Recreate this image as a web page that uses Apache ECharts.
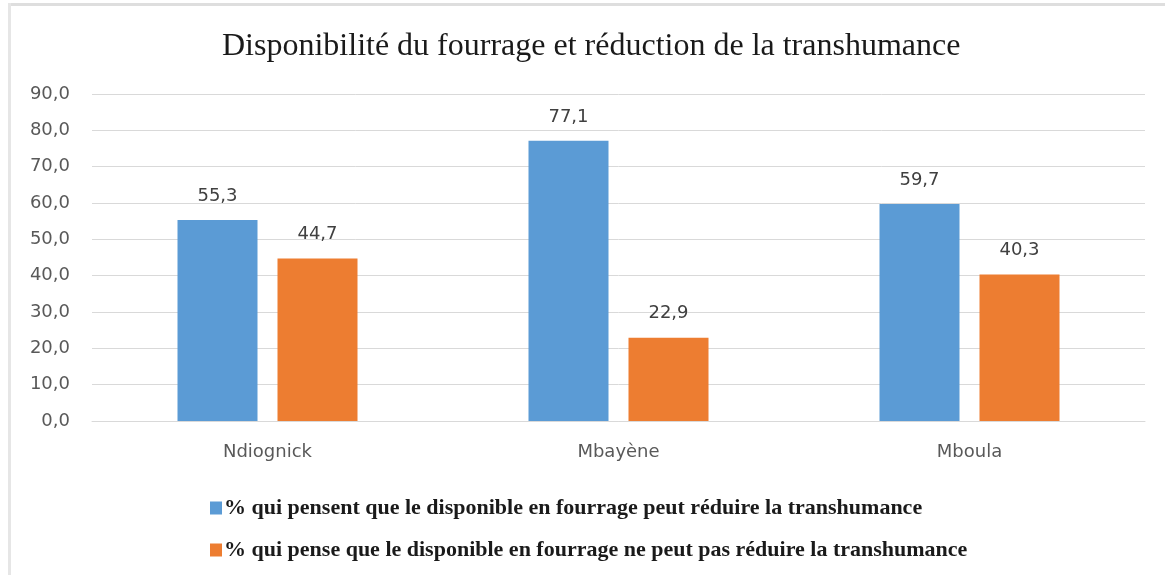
<!DOCTYPE html>
<html>
<head>
<meta charset="utf-8">
<script src="https://cdn.jsdelivr.net/npm/echarts@6/dist/echarts.min.js"></script>
<style>
  html, body { margin: 0; padding: 0; background: #fff; }
  #chart { width: 1165px; height: 575px; }
</style>
</head>
<body>
<div id="chart"></div>
<script>
const titleText = 'Disponibilité du fourrage et réduction de la transhumance';
const sites = ['Ndiognick', 'Mbayène', 'Mboula'];
const seriesNames = [
  '% qui pensent que le disponible en fourrage peut réduire la transhumance',
  '% qui pense que le disponible en fourrage ne peut pas réduire la transhumance'
];
const peutReduire = [55.3, 77.1, 59.7];
const nePeutPas = [44.7, 22.9, 40.3];
const colors = ['#5B9BD5', '#ED7D31'];

// French decimal comma, one decimal place
const fmt = v => Number(v).toFixed(1).replace('.', ',');

const chart = echarts.init(document.getElementById('chart'), null, { renderer: 'canvas' });

const sansFont = 'DejaVu Sans, Noto Sans, sans-serif';
const serifFont = 'Liberation Serif, Times New Roman, serif';

const labelStyle = {
  show: true,
  position: 'top',
  distance: 15,
  color: '#404040',
  fontFamily: sansFont,
  fontSize: 18,
  formatter: p => fmt(p.value)
};

chart.setOption({
  animation: false,
  backgroundColor: '#ffffff',
  color: colors,
  title: {
    text: titleText,
    left: 217,
    top: 26,
    textStyle: {
      fontFamily: serifFont,
      fontWeight: 'normal',
      fontSize: 32,
      color: '#1a1a1a'
    }
  },
  graphic: [
    { type: 'rect', shape: { x: 8, y: 3, width: 1157, height: 3 }, style: { fill: '#dedede' }, silent: true },
    { type: 'rect', shape: { x: 8, y: 3, width: 3, height: 572 }, style: { fill: '#e6e6e6' }, silent: true }
  ],
  legend: {
    orient: 'vertical',
    left: 205,
    top: 492,
    itemWidth: 12,
    itemHeight: 13,
    itemGap: 20,
    icon: 'rect',
    textStyle: {
      fontFamily: serifFont,
      fontWeight: 'bold',
      fontSize: 22,
      color: '#1a1a1a',
      padding: [0, 0, 0, -3]
    },
    data: seriesNames
  },
  grid: {
    left: 92,
    right: 20,
    top: 94,
    bottom: 154,
    containLabel: false
  },
  xAxis: {
    type: 'category',
    data: sites,
    axisLine: { show: true, lineStyle: { color: '#d9d9d9', width: 1 } },
    axisTick: { show: false },
    axisLabel: {
      color: '#595959',
      fontFamily: sansFont,
      fontSize: 18,
      margin: 22
    }
  },
  yAxis: {
    type: 'value',
    min: 0,
    max: 90,
    interval: 10,
    axisLine: { show: false },
    axisTick: { show: false },
    splitLine: { lineStyle: { color: '#d9d9d9', width: 1 } },
    axisLabel: {
      color: '#595959',
      fontFamily: sansFont,
      fontSize: 18,
      margin: 22,
      formatter: v => fmt(v)
    }
  },
  series: [
    {
      name: seriesNames[0],
      type: 'bar',
      data: peutReduire,
      barWidth: 80,
      barGap: '25%',
      itemStyle: { color: colors[0] },
      label: labelStyle
    },
    {
      name: seriesNames[1],
      type: 'bar',
      data: nePeutPas,
      barWidth: 80,
      barGap: '25%',
      itemStyle: { color: colors[1] },
      label: labelStyle
    }
  ]
});
</script>
</body>
</html>
